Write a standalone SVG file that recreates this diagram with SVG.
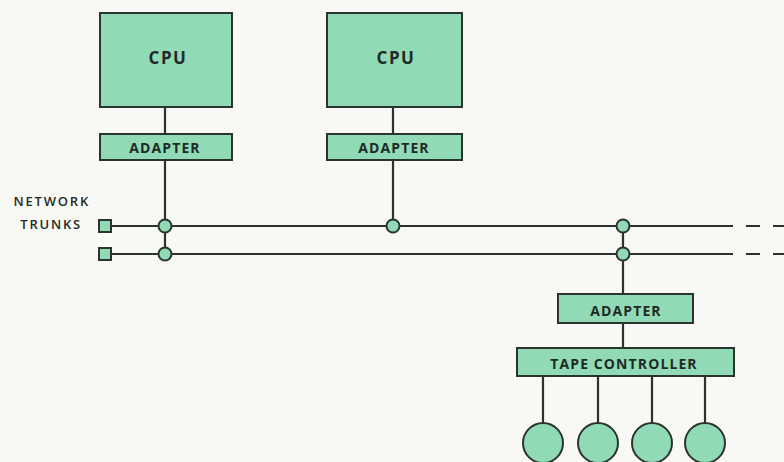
<svg xmlns="http://www.w3.org/2000/svg" width="784" height="462" viewBox="0 0 784 462">
<style>
.box{fill:#90dab6;stroke:#2b332f;stroke-width:2}
.ln{stroke:#2b332f;stroke-width:2.2;fill:none}
.t{font-family:"Open Sans","DejaVu Sans",sans-serif;font-weight:bold;fill:#1f2a26;text-anchor:middle}
.cpu{font-size:17px;letter-spacing:1.5px}
.ad{font-size:14px;letter-spacing:1.1px}
.lab{font-family:"Open Sans","DejaVu Sans",sans-serif;font-size:13px;font-weight:600;fill:#1f2a26;letter-spacing:1.8px}
.j{fill:#90dab6;stroke:#2b332f;stroke-width:2}
</style>
<rect width="784" height="462" fill="#f8f8f4"/>
<g id="connectors">
<line class="ln" x1="165" y1="107" x2="165" y2="134"/>
<line class="ln" x1="165" y1="160" x2="165" y2="254"/>
<line class="ln" x1="393" y1="107" x2="393" y2="134"/>
<line class="ln" x1="393" y1="160" x2="393" y2="226"/>
<line class="ln" x1="111" y1="226" x2="733" y2="226"/>
<line class="ln" x1="111" y1="254" x2="733" y2="254"/>
<line class="ln" x1="746" y1="226" x2="784" y2="226" stroke-dasharray="14,13"/>
<line class="ln" x1="746" y1="254" x2="784" y2="254" stroke-dasharray="14,13"/>
<line class="ln" x1="623" y1="226" x2="623" y2="294"/>
<line class="ln" x1="623" y1="323" x2="623" y2="348"/>
<line class="ln" x1="543" y1="376" x2="543" y2="423"/>
<line class="ln" x1="598" y1="376" x2="598" y2="423"/>
<line class="ln" x1="652" y1="376" x2="652" y2="423"/>
<line class="ln" x1="705" y1="376" x2="705" y2="423"/>
</g>
<g id="cpu1"><rect class="box" x="100" y="13" width="132" height="94"/><text class="t cpu" x="168" y="64">CPU</text></g>
<g id="cpu2"><rect class="box" x="327" y="13" width="135" height="94"/><text class="t cpu" x="396" y="64">CPU</text></g>
<g id="adapter1"><rect class="box" x="100" y="134" width="132" height="26"/><text class="t ad" x="165" y="153">ADAPTER</text></g>
<g id="adapter2"><rect class="box" x="327" y="134" width="135" height="26"/><text class="t ad" x="394" y="153">ADAPTER</text></g>
<g id="trunk-label"><text class="lab" x="90" y="206" text-anchor="end">NETWORK</text><text class="lab" x="82" y="229" text-anchor="end">TRUNKS</text></g>
<g id="trunk-ends">
<rect class="j" x="99" y="220" width="12" height="12"/>
<rect class="j" x="99" y="248" width="12" height="12"/>
</g>
<g id="junctions">
<circle class="j" cx="165" cy="226" r="6.5"/>
<circle class="j" cx="165" cy="254" r="6.5"/>
<circle class="j" cx="393" cy="226" r="6.5"/>
<circle class="j" cx="623" cy="226" r="6.5"/>
<circle class="j" cx="623" cy="254" r="6.5"/>
</g>
<g id="adapter3"><rect class="box" x="558" y="294" width="135" height="29"/><text class="t ad" x="626" y="316">ADAPTER</text></g>
<g id="tape-controller"><rect class="box" x="517" y="348" width="217" height="28"/><text class="t ad" x="624" y="369">TAPE  CONTROLLER</text></g>
<g id="tape1"><circle class="j" cx="543" cy="443" r="20"/></g>
<g id="tape2"><circle class="j" cx="598" cy="443" r="20"/></g>
<g id="tape3"><circle class="j" cx="652" cy="443" r="20"/></g>
<g id="tape4"><circle class="j" cx="705" cy="443" r="20"/></g>
</svg>
